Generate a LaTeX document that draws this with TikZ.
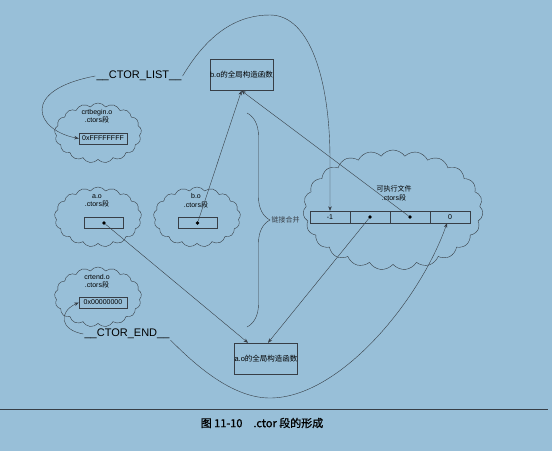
\documentclass[tikz,border=0pt]{standalone}
\usepackage{fontspec}
\setmainfont{Liberation Sans}
\newfontfamily\cjk{Noto Sans CJK SC}
\newfontfamily\cjkcap[FakeBold=1.2]{Noto Sans CJK SC}
\usetikzlibrary{shapes.symbols,decorations.pathreplacing,arrows.meta}
\definecolor{bgblue}{RGB}{152,191,216}
\definecolor{inkgray}{RGB}{55,62,70}
\begin{document}
\begin{tikzpicture}
[x=1pt,y=-1pt,
cloudy/.style={cloud,cloud puffs=17,cloud puff arc=110,cloud ignores aspect,draw=inkgray,thin,minimum width=87pt,minimum height=60pt,inner sep=0pt},
slot/.style={draw=inkgray,thin,minimum width=48pt,minimum height=11pt,inner sep=0pt,font=\fontsize{7}{8}\selectfont},
cell/.style={draw=inkgray,thin,minimum width=40pt,minimum height=12pt,inner sep=0pt,font=\fontsize{7}{8}\selectfont},
func/.style={draw=inkgray,thin,minimum width=63pt,minimum height=31pt,inner sep=0pt,font=\fontsize{7.5}{9}\selectfont},
cloudtext/.style={inner sep=0.5pt,font=\fontsize{7}{8.5}\selectfont,align=center},
symname/.style={inner sep=1pt,font=\fontsize{11}{12}\selectfont},
link/.style={-{Stealth[length=4.5pt,width=3.5pt]},inkgray,thin},
point/.style={circle,fill=black,inner sep=0pt,minimum size=3.6pt}]

%draw the background
\fill[bgblue] (0,0) rectangle (552,451);
\useasboundingbox (0,0) rectangle (552,451);

%draw the clouds of the object files
\node[cloudy] (crtbegin) at (98,133) {};
\node[cloudtext] (crtbeginname) at (97,116.5) {crtbegin.o\\.ctors{\cjk 段}};
\node[slot] (ffff) at (103,138.5) {0xFFFFFFFF};

\node[cloudy] (ao) at (98,217) {};
\node[cloudtext] (aoname) at (97,201) {a.o\\.ctors{\cjk 段}};
\node[slot,minimum width=39pt] (aoslot) at (104,223) {};
\node[point] (aodot) at (aoslot.center) {};

\node[cloudy] (bo) at (197,217) {};
\node[cloudtext] (boname) at (196,201) {b.o\\.ctors{\cjk 段}};
\node[slot,minimum width=39pt] (boslot) at (197.5,223) {};
\node[point] (bodot) at (boslot.center) {};

\node[cloudy] (crtend) at (98,297) {};
\node[cloudtext] (crtendname) at (97,281) {crtend.o\\.ctors{\cjk 段}};
\node[slot] (zero) at (103,302.5) {0x00000000};

%draw the executable and its .ctors cells
\node[cloudy,minimum width=180pt,minimum height=120pt,cloud puffs=23] (exe) at (393,210) {};
\node[cloudtext] (exename) at (394,193.5) {{\cjk 可执行文件}\\.ctors{\cjk 段}};
\foreach \t [count=\i] in {{-1},{},{},{0}}
  \node[cell] (c\i) at (290+40*\i,217) {\t};
\node[point] (d2) at (c2.center) {};
\node[point] (d3) at (c3.center) {};

%draw the constructor functions
\node[func] (bofunc) at (241.5,75) {b.o{\cjk 的全局构造函数}};
\node[func] (aofunc) at (266,358.5) {a.o{\cjk 的全局构造函数}};

%draw the symbols
\node[symname] (ctorlist) at (139,76) {\_\_CTOR\_LIST\_\_};
\node[symname] (ctorend) at (127,334) {\_\_CTOR\_END\_\_};

%draw the brace for merging
\draw[inkgray,thin,decorate,decoration={brace,amplitude=23pt}] (247,113) -- (247,327)
  node[cloudtext,anchor=west,pos=0.5,xshift=24pt] (merge) {{\cjk 链接合并}};

%draw the pointers
\draw[link] (bodot) -- (bofunc.south);
\draw[link] (d3) -- (bofunc.south);
\draw[link] (aodot) -- ([xshift=-18pt]aofunc.north);
\draw[link] (d2) -- ([xshift=2pt]aofunc.north);

%draw the symbol curves
\draw[link] (ctorlist.east) .. controls (210,30) and (240,15) .. (270,15)
  .. controls (310,15) and (330,80) .. (330,160) -- (c1.north);
\draw[link] (ctorlist.west) .. controls (20,90) and (35,130) .. (ffff.west);
\draw[link] (ctorend.west) .. controls (60,330) and (58,312) .. (zero.west);
\draw[link] (ctorend.south east) .. controls (200,370) and (235,398) .. (270,398)
  .. controls (340,398) and (420,300) .. ([xshift=-3pt]c4.south);

%draw the rule and the caption
\draw[inkgray,line width=0.9pt] (0,409) -- (548,409);
\node[font={\cjkcap\fontsize{11}{12}\selectfont}] (caption) at (262,423) {图 11-10\quad .ctor 段的形成};

\end{tikzpicture}
\end{document}
